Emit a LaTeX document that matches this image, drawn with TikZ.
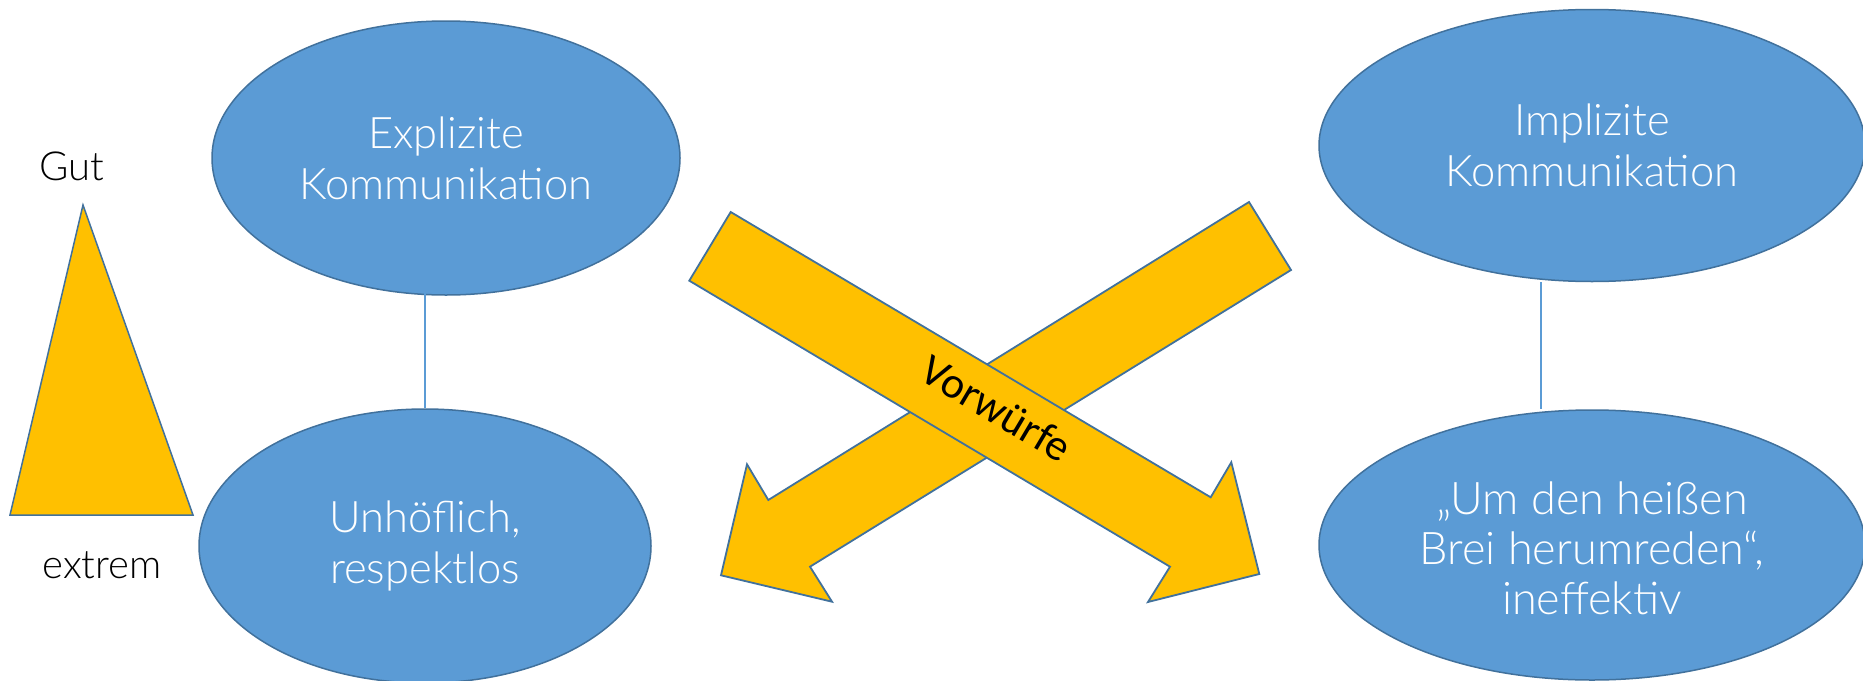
\documentclass[tikz,border=0pt]{standalone}
\usepackage{fontspec}
\setmainfont{Lato}[UprightFont={* Light}]
\newfontfamily\calib{Carlito}
\usetikzlibrary{shapes.geometric}
\definecolor{fillblue}{HTML}{5B9BD5}
\definecolor{edgeblue}{HTML}{41719C}
\definecolor{gold}{HTML}{FFC000}
\tikzset{
  ell/.style={ellipse, draw=edgeblue, fill=fillblue, line width=1.5pt, inner sep=0pt},
  elltext/.style={text=white, align=center, font=\fontsize{43.5}{51}\selectfont},
  conn/.style={draw=fillblue, line width=1.2pt},
  yel/.style={fill=gold, draw=edgeblue, line width=1.8pt, line join=miter},
  side/.style={text=black, font=\fontsize{40}{48}\selectfont}
}
\begin{document}
\begin{tikzpicture}[x=1pt, y=-1pt]
\useasboundingbox (0,0) rectangle (1863,680);
\clip (0,0) rectangle (1863,680);
\fill[white] (0,0) rectangle (1863,680);
% ellipses
\node[ell, minimum width=468pt, minimum height=274pt] (expl) at (446,158) {};
\node[elltext] (explt) at (446,158) {Explizite\\Kommunikation};
\node[ell, minimum width=452pt, minimum height=274pt] (unh) at (425,546) {};
\node[elltext] (unht) at (425,546) {Unhöflich,\\respektlos};
\node[ell, minimum width=546pt, minimum height=272pt] (impl) at (1592,145.5) {};
\node[elltext] (implt) at (1592,145.5) {Implizite\\Kommunikation};
\node[ell, minimum width=546pt, minimum height=270pt] (brei) at (1592,545) {};
\node[elltext, font=\fontsize{45}{50}\selectfont] (breit) at (1592,548) {„Um den heißen\\Brei herumreden“,\\ineffektiv};
% connectors
\draw[conn] ([yshift=7pt]expl.south -| unh.north) -- (unh.north);
\draw[conn] (impl.south -| 1541,0) -- (brei.north -| 1541,0);
% triangle and labels
\draw[yel, line width=1.5pt] (83,205) -- (193,515) -- (10,515) -- cycle;
\node[side] (gut) at (72,166) {Gut};
\node[side] (extrem) at (102,565) {extrem};
% arrow 2 (behind)
\draw[yel] (1249,202) -- (1291,270) -- (810,566.7) -- (832,601.7) -- (721,575.3) -- (747,464.3) -- (768.3,500) -- cycle;
% arrow 1 (front)
\draw[yel] (730.7,212) -- (1210.7,497.3) -- (1231.3,462.3) -- (1259.3,574) -- (1148,602) -- (1170,566.7) -- (689.3,280.7) -- cycle;
\node[rotate=-30.7, inner sep=0pt, font=\calib\fontsize{44}{50}\selectfont] (vorw) at (996.7,408.3) {Vorwürfe};
\end{tikzpicture}
\end{document}
